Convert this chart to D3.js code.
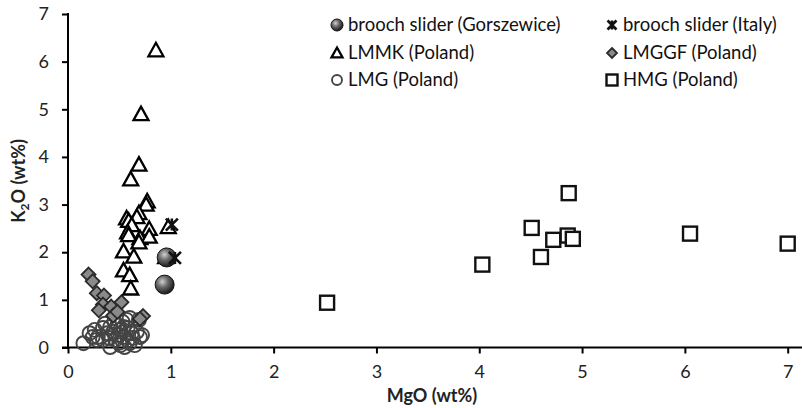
<!DOCTYPE html>
<html><head><meta charset="utf-8">
<script src="https://cdn.jsdelivr.net/npm/d3@7"></script>
<style>body{margin:0;background:#fff}svg{display:block}</style>
</head><body>
<svg id="c" width="802" height="408"></svg>
<script>
// ---- data (MgO wt%, K2O wt%) ----
const gorszewice = [[0.96,1.89],[0.94,1.32]];
const italy = [[1.01,2.58],[1.04,1.88]];
const lmmk = [[0.855,6.24],[0.71,4.90],[0.69,3.84],[0.61,3.53],[0.77,3.07],[0.76,3.00],[0.69,2.82],[0.67,2.74],[0.57,2.71],[0.59,2.66],[0.62,2.57],[0.79,2.49],[0.58,2.42],[0.59,2.36],[0.70,2.30],[0.79,2.33],[0.69,2.21],[0.975,2.53],[0.54,2.02],[0.64,1.91],[0.54,1.62],[0.60,1.52],[0.61,1.24],[0.95,1.90]];
const lmggf = [[0.20,1.53],[0.24,1.39],[0.28,1.14],[0.35,1.09],[0.34,0.90],[0.42,0.86],[0.52,0.95],[0.30,0.78],[0.44,0.67],[0.48,0.75],[0.73,0.66],[0.70,0.60]];
const lmg = [[0.15,0.09],[0.21,0.30],[0.26,0.37],[0.29,0.22],[0.34,0.41],[0.38,0.30],[0.41,0.43],[0.44,0.33],[0.48,0.47],[0.51,0.37],[0.54,0.43],[0.58,0.41],[0.62,0.30],[0.67,0.33],[0.70,0.22],[0.72,0.26],[0.46,0.16],[0.51,0.05],[0.55,0.01],[0.60,0.09],[0.65,0.05],[0.41,0.01],[0.34,0.16],[0.28,0.16],[0.24,0.22],[0.57,0.58],[0.60,0.62],[0.53,0.54],[0.63,0.20],[0.49,0.26],[0.54,0.22],[0.69,0.58],[0.45,0.55],[0.36,0.50],[0.50,0.10],[0.58,0.15],[0.40,0.20]];
const hmg = [[2.52,0.94],[4.03,1.74],[4.51,2.51],[4.72,2.26],[4.86,2.35],[4.91,2.28],[4.60,1.90],[4.87,3.24],[6.05,2.39],[7.00,2.18]];
const xTicks = [0,1,2,3,4,5,6,7];
const yTicks = [0,1,2,3,4,5,6,7];
const legendLabels = ["brooch slider (Gorszewice)","brooch slider (Italy)","LMMK (Poland)","LMGGF (Poland)","LMG (Poland)","HMG (Poland)"];

const svg = d3.select("#c");
const x = d3.scaleLinear().domain([0,7]).range([68,787.7]);
const y = d3.scaleLinear().domain([0,7]).range([347.5,14]);
const font = "Lato, 'Open Sans', sans-serif";

const defs = svg.append("defs");
const g = defs.append("radialGradient").attr("id","sph").attr("cx","38%").attr("cy","35%").attr("r","65%");
g.append("stop").attr("offset","0%").attr("stop-color","#d0d0d0");
g.append("stop").attr("offset","45%").attr("stop-color","#6a6a6a");
g.append("stop").attr("offset","100%").attr("stop-color","#1a1a1a");

// symbol drawers
function tri(sel, s){ const h=s*0.9, w=s*0.5; sel.append("path").attr("d",`M0,${-h*0.55}L${w},${h*0.45}L${-w},${h*0.45}Z`).attr("fill","#fff").attr("stroke","#000").attr("stroke-width",2.3).attr("stroke-linejoin","miter"); }
function sq(sel, s){ sel.append("rect").attr("x",-s/2).attr("y",-s/2).attr("width",s).attr("height",s).attr("fill","#fff").attr("stroke","#111").attr("stroke-width",2.4); }
function dia(sel, s){ const h=s/2; sel.append("path").attr("d",`M0,${-h}L${h},0L0,${h}L${-h},0Z`).attr("fill","#8a8a8a").attr("stroke","#2a2a2a").attr("stroke-width",1.8); }
function circ(sel, r){ sel.append("circle").attr("r",r).attr("fill","none").attr("stroke","#444").attr("stroke-width",1.9); }
function sph(sel, r){ sel.append("circle").attr("r",r).attr("fill","url(#sph)").attr("stroke","#111").attr("stroke-width",1); }
function star(sel, s){ const h=s/2; sel.append("path").attr("d",`M${-h},${-h}L${h},${h}M${h},${-h}L${-h},${h}M0,${-h}L0,${h}`).attr("stroke","#111").attr("stroke-width",2.6).attr("fill","none"); }

function plot(data, fn, size){
  const gg = svg.append("g");
  data.forEach(d=>{ const s = gg.append("g").attr("transform",`translate(${x(d[0])},${y(d[1])})`); fn(s,size); });
}

// axes
const xa = svg.append("g").attr("transform",`translate(0,${y(0)})`)
  .call(d3.axisBottom(x).tickValues(xTicks).tickSize(6).tickSizeOuter(0).tickFormat(d3.format("d")));
xa.select(".domain").remove();
xa.selectAll(".tick line").attr("stroke","#000").attr("stroke-width",2);
xa.selectAll(".tick text").attr("font-family",font).attr("font-size",18).attr("fill","#222").attr("dy","1.2em");
svg.append("line").attr("x1",x(0)-6).attr("x2",802).attr("y1",y(0)).attr("y2",y(0)).attr("stroke","#000").attr("stroke-width",2);

const ya = svg.append("g").attr("transform",`translate(${x(0)},0)`)
  .call(d3.axisLeft(y).tickValues(yTicks).tickSize(6).tickSizeOuter(0).tickFormat(d3.format("d")));
ya.select(".domain").remove();
ya.selectAll(".tick line").attr("stroke","#000").attr("stroke-width",2);
ya.selectAll(".tick text").attr("font-family",font).attr("font-size",18).attr("fill","#222").attr("x",-19);
svg.append("line").attr("x1",x(0)).attr("x2",x(0)).attr("y1",y(0)).attr("y2",y(7)-1).attr("stroke","#000").attr("stroke-width",2);

// axis titles
svg.append("text").attr("x",432).attr("y",402).attr("text-anchor","middle").attr("font-family",font).attr("font-weight","bold").attr("font-size",18).attr("fill","#222").text("MgO (wt%)");
const yl = svg.append("text").attr("transform","translate(25,181) rotate(-90)").attr("text-anchor","middle").attr("font-family",font).attr("font-weight","bold").attr("font-size",18).attr("fill","#222");
yl.append("tspan").text("K");
yl.append("tspan").attr("font-size",12).attr("dy",4).text("2");
yl.append("tspan").attr("dy",-4).text("O (wt%)");

// marks
plot(lmg, circ, 7);
plot(lmggf, dia, 14);
plot(lmmk, tri, 15);
plot(hmg, sq, 14);
plot(gorszewice, sph, 9.5);
plot(italy, star, 12);

// legend
const legFns = [[sph,6],[star,9],[tri,11],[dia,10],[circ,5],[sq,11]];
const colX = [337,612], rowY = [25,53,80];
legendLabels.forEach((t,i)=>{
  const cx = colX[i%2], cy = rowY[Math.floor(i/2)];
  const s = svg.append("g").attr("transform",`translate(${cx},${cy})`);
  legFns[i][0](s, legFns[i][1]);
  svg.append("text").attr("x",cx+11).attr("y",cy).attr("dy","0.35em").attr("font-family",font).attr("font-size",18.5).attr("fill","#111").text(t);
});
</script>
</body></html>
